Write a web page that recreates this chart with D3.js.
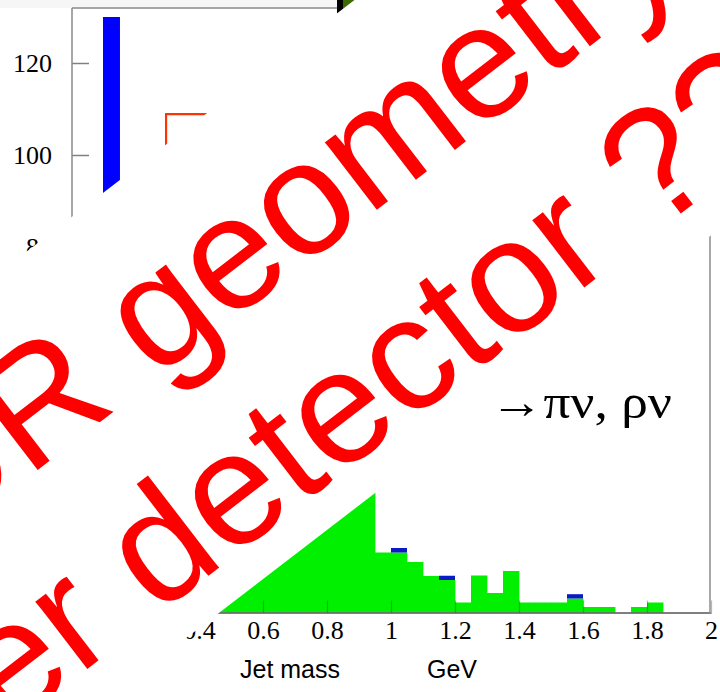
<!DOCTYPE html>
<html>
<head>
<meta charset="utf-8">
<script src="https://cdn.jsdelivr.net/npm/d3@7"></script>
<style>
  html, body { margin: 0; padding: 0; background: #fff; }
  svg { display: block; }
</style>
</head>
<body>
<script>
// ---- upper panel: mass scan ----
const upperTickValues = [80, 100, 120];
const upperTickLabels = ["80", "100", "120"];
const upperBars = [
  { name: "window", x0: 11.7, x1: 18.1, lo: 60, hi: 130, kind: "fill" },
  { name: "reference", x0: 35.5, x1: 62.0, lo: 60, hi: 108.9, kind: "step" }
];

// ---- lower panel: jet mass for tau -> pi nu, rho nu ----
const massBins = [0.40, 0.45, 0.50, 0.55, 0.60, 0.65, 0.70, 0.75, 0.80, 0.85,
                  0.90, 0.95, 1.00, 1.05, 1.10, 1.15, 1.20, 1.25, 1.30, 1.35,
                  1.40, 1.45, 1.50, 1.55, 1.60, 1.65, 1.70, 1.75, 1.80];
const greenCounts = [3, 6, 9, 13, 17, 22, 27, 30, 31, 29,
                     26, 12.0, 12.0, 10.1, 7.3, 6.5, 2.0, 7.4, 3.9, 8.3,
                     2.0, 2.0, 2.0, 2.8, 1.1, 1.1, 0, 1.1, 2.0];
const blueCounts = [0, 0, 0, 0, 0, 0, 0, 0, 0, 0,
                    0, 0, 0.9, 0, 0, 0.85, 0, 0, 0, 0,
                    0, 0, 0, 0.86, 0, 0, 0, 0, 0];
const binWidth = 0.05;
const massTicks = [0.4, 0.6, 0.8, 1, 1.2, 1.4, 1.6, 1.8, 2];
const massTickLabels = ["0.4", "0.6", "0.8", "1", "1.2", "1.4", "1.6", "1.8", "2"];

const decayLabel = "→πν, ρν";
const banner = ["OR geometry ??", "er detector ??"];

const W = 720, H = 692;
const svg = d3.select("body").append("svg").attr("width", W).attr("height", H);

// ================= upper panel =================
svg.append("rect").attr("x", 0).attr("y", 0).attr("width", 337).attr("height", 8)
  .attr("fill", "#f6f6f6");

const ux = d3.scaleLinear().domain([0, 100]).range([72, 337]);
const uy = d3.scaleLinear().domain([80, 120]).range([247, 63]);

const up = svg.append("g");
up.append("rect").attr("x", 72).attr("y", 8).attr("width", 265).attr("height", 400)
  .attr("fill", "#fff");
up.append("line").attr("x1", 72).attr("x2", 337).attr("y1", 8).attr("y2", 8)
  .attr("stroke", "#8a8a8a").attr("stroke-width", 1.5);

const uAxis = d3.axisLeft(uy)
  .tickValues(upperTickValues)
  .tickFormat((d, i) => upperTickLabels[i])
  .tickSizeInner(-17).tickSizeOuter(0).tickPadding(20);
const uAx = up.append("g").attr("transform", "translate(72,0)").call(uAxis);
uAx.select(".domain").remove();
uAx.selectAll(".tick line").attr("stroke", "#808080").attr("stroke-width", 1.5);
uAx.selectAll(".tick text").attr("font-family", "Liberation Serif, serif")
  .attr("font-size", 26).attr("fill", "#000");
up.append("line").attr("x1", 72).attr("x2", 72).attr("y1", 8).attr("y2", 400)
  .attr("stroke", "#8a8a8a").attr("stroke-width", 1.5);

upperBars.filter(d => d.kind === "fill").forEach(d => {
  up.append("rect")
    .attr("x", ux(d.x0)).attr("width", ux(d.x1) - ux(d.x0))
    .attr("y", uy(d.hi)).attr("height", uy(d.lo) - uy(d.hi))
    .attr("fill", "#0000ff");
});
upperBars.filter(d => d.kind === "step").forEach(d => {
  const p = d3.path();
  p.moveTo(ux(d.x0), uy(d.lo));
  p.lineTo(ux(d.x0), uy(d.hi));
  p.lineTo(ux(d.x1), uy(d.hi));
  p.lineTo(ux(d.x1), uy(d.lo));
  up.append("path").attr("d", p.toString()).attr("fill", "none")
    .attr("stroke", "#ff3300").attr("stroke-width", 2.2);
});

// neighbouring panel peeking in at the top
svg.append("rect").attr("x", 343).attr("y", -20).attr("width", 400).attr("height", 200)
  .attr("fill", "#3b6b00");
svg.append("rect").attr("x", 337).attr("y", -20).attr("width", 6).attr("height", 200)
  .attr("fill", "#000");

// ================= lower panel =================
const lx = d3.scaleLinear().domain([0.4, 2]).range([199, 711]);
const ly = d3.scaleLinear().domain([0, 30]).range([612.5, 462.5]);

const low = svg.append("g");
low.append("rect").attr("x", 199).attr("y", 200).attr("width", 512).attr("height", 412.5)
  .attr("fill", "#fff");

const bins = massBins.map((b, i) => ({ x0: b, x1: b + binWidth, g: greenCounts[i], b: blueCounts[i] }));

low.selectAll("rect.green").data(bins.filter(d => d.g > 0)).join("rect")
  .attr("class", "green")
  .attr("x", d => lx(d.x0)).attr("width", d => lx(d.x1) - lx(d.x0) + 0.4)
  .attr("y", d => ly(d.g)).attr("height", d => ly(0) - ly(d.g))
  .attr("fill", "#00f000");
low.selectAll("rect.blue").data(bins.filter(d => d.b > 0)).join("rect")
  .attr("class", "blue")
  .attr("x", d => lx(d.x0)).attr("width", d => lx(d.x1) - lx(d.x0))
  .attr("y", d => ly(d.g + d.b)).attr("height", d => ly(d.g) - ly(d.g + d.b))
  .attr("fill", "#0a1ac8");

const lAxis = d3.axisBottom(lx)
  .tickValues(massTicks)
  .tickFormat((d, i) => massTickLabels[i])
  .tickSizeInner(-12).tickSizeOuter(0).tickPadding(8);
const lAx = low.append("g").attr("transform", "translate(0,612.5)").call(lAxis);
lAx.select(".domain").attr("stroke", "#555").attr("stroke-width", 1.5);
lAx.selectAll(".tick line").attr("stroke", "#333").attr("stroke-opacity", 0.35).attr("stroke-width", 1.2);
lAx.selectAll(".tick text").attr("font-family", "Liberation Serif, serif")
  .attr("font-size", 26).attr("fill", "#000");

low.append("line").attr("x1", 710).attr("x2", 710).attr("y1", 200).attr("y2", 612.5)
  .attr("stroke", "#a8a8a8").attr("stroke-width", 2);

low.append("text").attr("x", 490).attr("y", 418)
  .attr("font-family", "Liberation Serif, serif").attr("font-size", 48).attr("fill", "#000")
  .attr("textLength", 182).attr("lengthAdjust", "spacingAndGlyphs")
  .text(decayLabel);

low.append("text").attr("x", 240).attr("y", 678)
  .attr("font-family", "Liberation Sans, Arial, sans-serif").attr("font-size", 25).attr("fill", "#000")
  .text("Jet mass");
low.append("text").attr("x", 427).attr("y", 678)
  .attr("font-family", "Liberation Sans, Arial, sans-serif").attr("font-size", 25).attr("fill", "#000")
  .text("GeV");

// ================= tilted banner =================
const band = svg.append("g").attr("transform", "translate(0,272) rotate(-37.5)");
band.append("rect").attr("x", -1200).attr("y", 0).attr("width", 3000).attr("height", 403.7)
  .attr("fill", "#fff");
band.append("text").attr("x", -229).attr("y", 180)
  .attr("font-family", "Liberation Sans, Arial, sans-serif").attr("font-size", 161)
  .attr("fill", "#ff0000").text(banner[0]);
band.append("text").attr("x", -273).attr("y", 368)
  .attr("font-family", "Liberation Sans, Arial, sans-serif").attr("font-size", 161)
  .attr("fill", "#ff0000").text(banner[1]);
</script>
</body>
</html>
